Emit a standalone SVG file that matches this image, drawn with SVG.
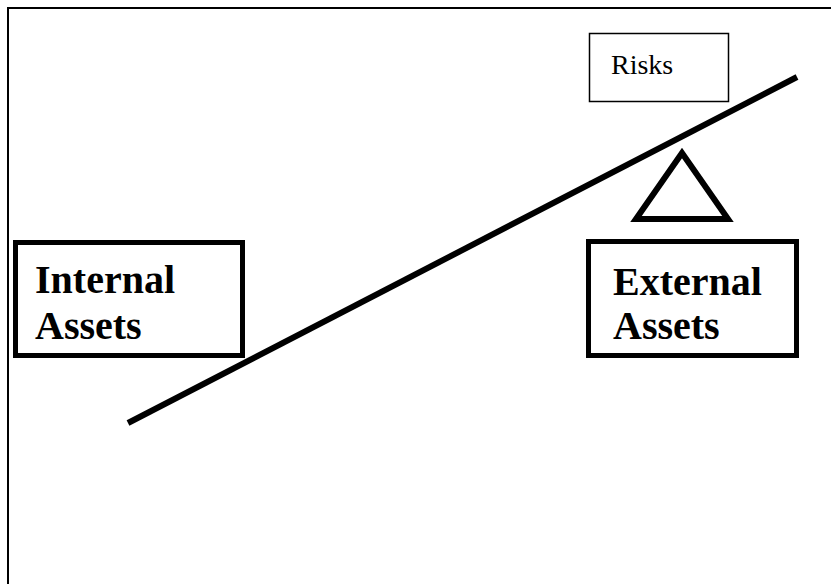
<svg xmlns="http://www.w3.org/2000/svg" width="831" height="584" viewBox="0 0 831 584">
<style>
.frame{stroke:#000;stroke-width:2;fill:none}
.box{fill:#fff;stroke:#000}
.big{font-family:"Liberation Serif",serif;font-weight:bold;font-size:40px;fill:#000}
.small{font-family:"Liberation Serif",serif;font-size:28px;fill:#000}
</style>
<rect width="831" height="584" fill="#fff"/>
<g id="frame">
<line class="frame" x1="7" y1="8" x2="831" y2="8"/>
<line class="frame" x1="8" y1="7" x2="8" y2="584"/>
</g>
<g id="internal-assets">
<rect class="box" x="15.5" y="242.5" width="227" height="113" stroke-width="5"/>
<text class="big" x="35" y="293">Internal</text>
<text class="big" x="35" y="339">Assets</text>
</g>
<g id="external-assets">
<rect class="box" x="588.5" y="241.5" width="208" height="114" stroke-width="5"/>
<text class="big" x="613" y="295">External</text>
<text class="big" x="613" y="339">Assets</text>
</g>
<g id="risks">
<rect class="box" x="589.5" y="33.5" width="139" height="68" stroke-width="1.5"/>
<text class="small" x="611" y="74">Risks</text>
</g>
<g id="connectors">
<line x1="128" y1="423" x2="797" y2="77" stroke="#000" stroke-width="6"/>
<polygon id="fulcrum" points="682,153 636,219 728,219" fill="none" stroke="#000" stroke-width="6"/>
</g>
</svg>
